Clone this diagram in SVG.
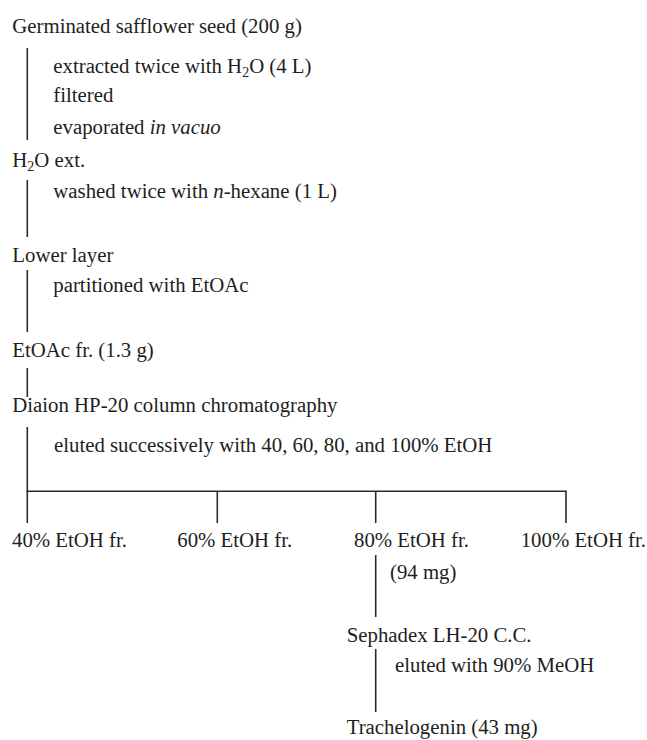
<svg xmlns="http://www.w3.org/2000/svg" width="647" height="740" viewBox="0 0 647 740">
<style>
text{font-family:"Liberation Serif","Times New Roman",serif;font-size:20.8px;fill:#1e1e1e}
.sub{font-size:14px}
.it{font-style:italic}
.c line{stroke:#2a2a2a;stroke-width:1.6}
</style>
<rect width="647" height="740" fill="#fff"/>
<g class="c" id="connectors">
<line x1="27.3" y1="48" x2="27.3" y2="140"/>
<line x1="27.3" y1="180" x2="27.3" y2="237"/>
<line x1="27.3" y1="270" x2="27.3" y2="332"/>
<line x1="27.3" y1="368" x2="27.3" y2="397"/>
<line x1="27.3" y1="427" x2="27.3" y2="523"/>
<line x1="26.5" y1="491.3" x2="566.8" y2="491.3"/>
<line x1="217.3" y1="491.3" x2="217.3" y2="523"/>
<line x1="375.7" y1="491.3" x2="375.7" y2="523"/>
<line x1="566" y1="491.3" x2="566" y2="523"/>
<line x1="375.7" y1="555" x2="375.7" y2="617"/>
<line x1="375.7" y1="649" x2="375.7" y2="712"/>
</g>
<g id="seed"><text x="12.3" y="33.3">Germinated safflower seed (200 g)</text></g>
<g id="step1">
<text x="53.3" y="72.7">extracted twice with H<tspan class="sub" dy="4">2</tspan><tspan dy="-4">O (4 L)</tspan></text>
<text x="53.3" y="102">filtered</text>
<text x="53.3" y="134.3">evaporated <tspan class="it">in vacuo</tspan></text>
</g>
<g id="h2o"><text x="12.3" y="166.7">H<tspan class="sub" dy="4">2</tspan><tspan dy="-4">O ext.</tspan></text></g>
<g id="step2"><text x="53.3" y="198">washed twice with <tspan class="it">n</tspan>-hexane (1 L)</text></g>
<g id="lower"><text x="12.3" y="261.7">Lower layer</text></g>
<g id="step3"><text x="53.3" y="291.7">partitioned with EtOAc</text></g>
<g id="etoac"><text x="12.3" y="356.7">EtOAc fr. (1.3 g)</text></g>
<g id="diaion"><text x="12.3" y="411.7">Diaion HP-20 column chromatography</text></g>
<g id="step4"><text x="54" y="452">eluted successively with 40, 60, 80, and 100% EtOH</text></g>
<g id="fr40"><text x="12" y="547">40% EtOH fr.</text></g>
<g id="fr60"><text x="177.3" y="547">60% EtOH fr.</text></g>
<g id="fr80"><text x="354" y="547">80% EtOH fr.</text><text x="390" y="578.5">(94 mg)</text></g>
<g id="fr100"><text x="520.7" y="547">100% EtOH fr.</text></g>
<g id="sephadex"><text x="346.7" y="641.7">Sephadex LH-20 C.C.</text></g>
<g id="step5"><text x="395" y="671.7">eluted with 90% MeOH</text></g>
<g id="trachelogenin"><text x="346.7" y="734">Trachelogenin (43 mg)</text></g>
</svg>
